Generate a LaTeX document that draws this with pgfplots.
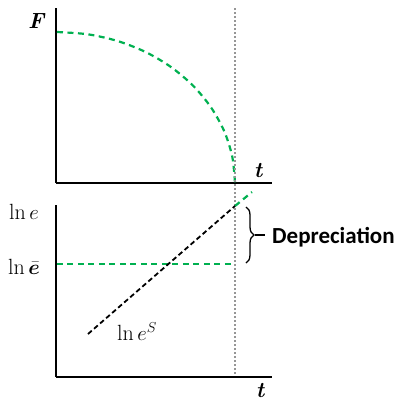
\documentclass[border=0pt]{standalone}
\usepackage{amsmath,bm}
\usepackage{pgfplots}
\pgfplotsset{compat=1.18}
\usepackage{fontspec}
\newfontfamily\calibri{Carlito}
\usetikzlibrary{decorations.pathreplacing}
\definecolor{dgreen}{RGB}{0,176,80}
\definecolor{dotgray}{RGB}{150,150,150}

\pgfplotsset{
  panel/.style={
    scale only axis, anchor=south west,
    axis lines=left, axis line style={line width=2pt,-},
    ticks=none, clip=false,
    xmin=56, xmax=272,
  },
  gdash/.style={dgreen, line width=2.2pt, dash pattern=on 6pt off 4.5pt},
}
\newcommand\lbl{\fontsize{22}{22}\selectfont}

\begin{document}
\begin{tikzpicture}[x=1pt,y=1pt]
\useasboundingbox (0,0) rectangle (396,-400);

% upper panel: F against t
\begin{axis}[panel, at={(56pt,-183pt)}, width=216pt, height=175pt,
  ymin=-183, ymax=-8]
  \addplot[gdash, smooth] coordinates {
    (57,-32) (87.9,-34.3) (117.9,-41.1) (146,-52.2) (171.4,-67.3)
    (193.3,-85.9) (211.1,-107.5) (224.3,-131.4) (232.3,-156.8) (235,-183)
  };
  \node[anchor=base, inner sep=0pt] at (axis cs:36,-28) {\lbl\bfseries\itshape F};
  \node[anchor=base, inner sep=0pt] at (axis cs:258,-177) {\lbl\bfseries\itshape t};
\end{axis}

% lower panel: ln e against t
\begin{axis}[panel, at={(56pt,-377pt)}, width=216pt, height=172pt,
  ymin=-377, ymax=-205]
  \addplot[dotgray, line width=1.6pt, dash pattern=on 1.6pt off 2.4pt] coordinates {
    (235,-374) (235,-8)
  };
  \addplot[gdash] coordinates {(57,-264) (235,-264)};
  \addplot[gdash] coordinates {(235,-206) (252,-192)};
  \addplot[black, line width=1.8pt, dash pattern=on 5pt off 3pt] coordinates {
    (88,-334) (235,-206)
  };
  \draw[line width=1.3pt, decorate, decoration={brace, amplitude=8pt}]
    (axis cs:246,-207) -- (axis cs:246,-263);
  \draw[line width=1.3pt] (axis cs:255,-235) -- (axis cs:265,-235);
  \node[anchor=base west, inner sep=0pt] at (axis cs:272,-243)
    {\fontsize{23}{23}\selectfont\calibri\bfseries Depreciation};
  \node[anchor=base west, inner sep=0pt] at (axis cs:9,-219)
    {\lbl $\ln e$};
  \node[anchor=base west, inner sep=0pt] at (axis cs:8,-274)
    {\lbl $\ln \bar{\bm{e}}$};
  \node[anchor=base west, inner sep=0pt] at (axis cs:117,-340)
    {\lbl $\ln e^{S}$};
  \node[anchor=base, inner sep=0pt] at (axis cs:260,-397) {\lbl\bfseries\itshape t};
\end{axis}
\end{tikzpicture}
\end{document}
